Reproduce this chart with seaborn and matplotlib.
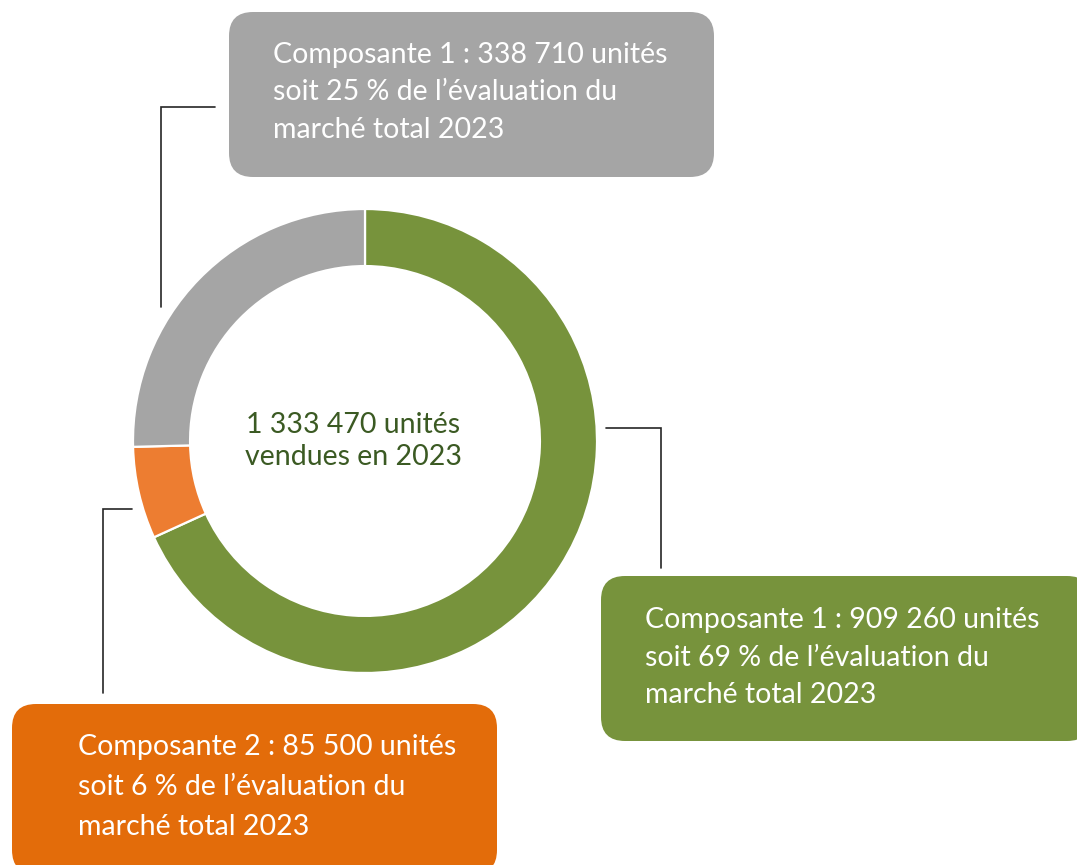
import matplotlib
matplotlib.use("Agg")
import matplotlib.pyplot as plt
from matplotlib.patches import FancyBboxPatch
import seaborn as sns

# données
composantes = ["Composante 1", "Composante 2", "Composante 1"]
unites = [909260, 85500, 338710]
pourcentages = [69, 6, 25]  # tels qu'écrits sur le graphique
couleurs_parts = ["#77933C", "#ED7D31", "#A5A5A5"]
couleurs_boites = ["#77933C", "#E36C0A", "#A5A5A5"]
annee = 2023


def fmt_nb(n):
    return f"{n:,}".replace(",", " ")


total = sum(unites)
textes = []
for nom, u, pct in zip(composantes, unites, pourcentages):
    textes.append([f"{nom} : {fmt_nb(u)} unités",
                   f"soit {pct} % de l\u2019évaluation du",
                   f"marché total {annee}"])

sns.set_theme(style="white")
plt.rcParams["font.family"] = ["Lato", "DejaVu Sans"]

W, H = 1077, 865
fig = plt.figure(figsize=(W / 100, H / 100), dpi=100)

# axe de fond en pixels pour les boites et les connecteurs
fond = fig.add_axes([0, 0, 1, 1])
fond.set_xlim(0, W)
fond.set_ylim(H, 0)
fond.axis("off")

# anneau
cx, cy, r = 365, 441, 232
ax = fig.add_axes([(cx - r) / W, 1 - (cy + r) / H, 2 * r / W, 2 * r / H])
ax.pie(unites, colors=couleurs_parts, startangle=90, counterclock=False,
       radius=1, wedgeprops=dict(width=0.246, edgecolor="white", linewidth=1.6))
ax.set_xlim(-1, 1)
ax.set_ylim(-1, 1)
ax.axis("off")
ax.text(-0.05, 0.0, f"{fmt_nb(total)} unités\nvendues en {annee}", ha="center",
        va="center", fontsize=20.5, color="#3B5A23", linespacing=1.25)

# boites: (x, y, largeur, hauteur, x texte, y premiere ligne, interligne)
boites = [
    (601, 576, 490, 165, 645, 620, 37.5),
    (12, 704, 485, 170, 78, 747, 40),
    (229, 12, 485, 165, 273, 55, 37.5),
]
for (x, y, w, h, tx, ty, dy), c, lignes in zip(boites, couleurs_boites, textes):
    fond.add_patch(FancyBboxPatch((x, y), w, h,
                                  boxstyle="round,pad=0,rounding_size=24",
                                  facecolor=c, edgecolor="none"))
    for i, ligne in enumerate(lignes):
        fond.text(tx, ty + i * dy, ligne, ha="left", va="center",
                  fontsize=20.5, color="white")

# connecteurs
connecteurs = [
    ([606, 661, 661], [428, 428, 568]),
    ([132, 103, 103], [509, 509, 693]),
    ([215, 161, 161], [107, 107, 307]),
]
for xs, ys in connecteurs:
    fond.plot(xs, ys, color="#262626", lw=1.2, solid_joinstyle="miter")

fig.savefig("out.png", dpi=100, facecolor="white")
